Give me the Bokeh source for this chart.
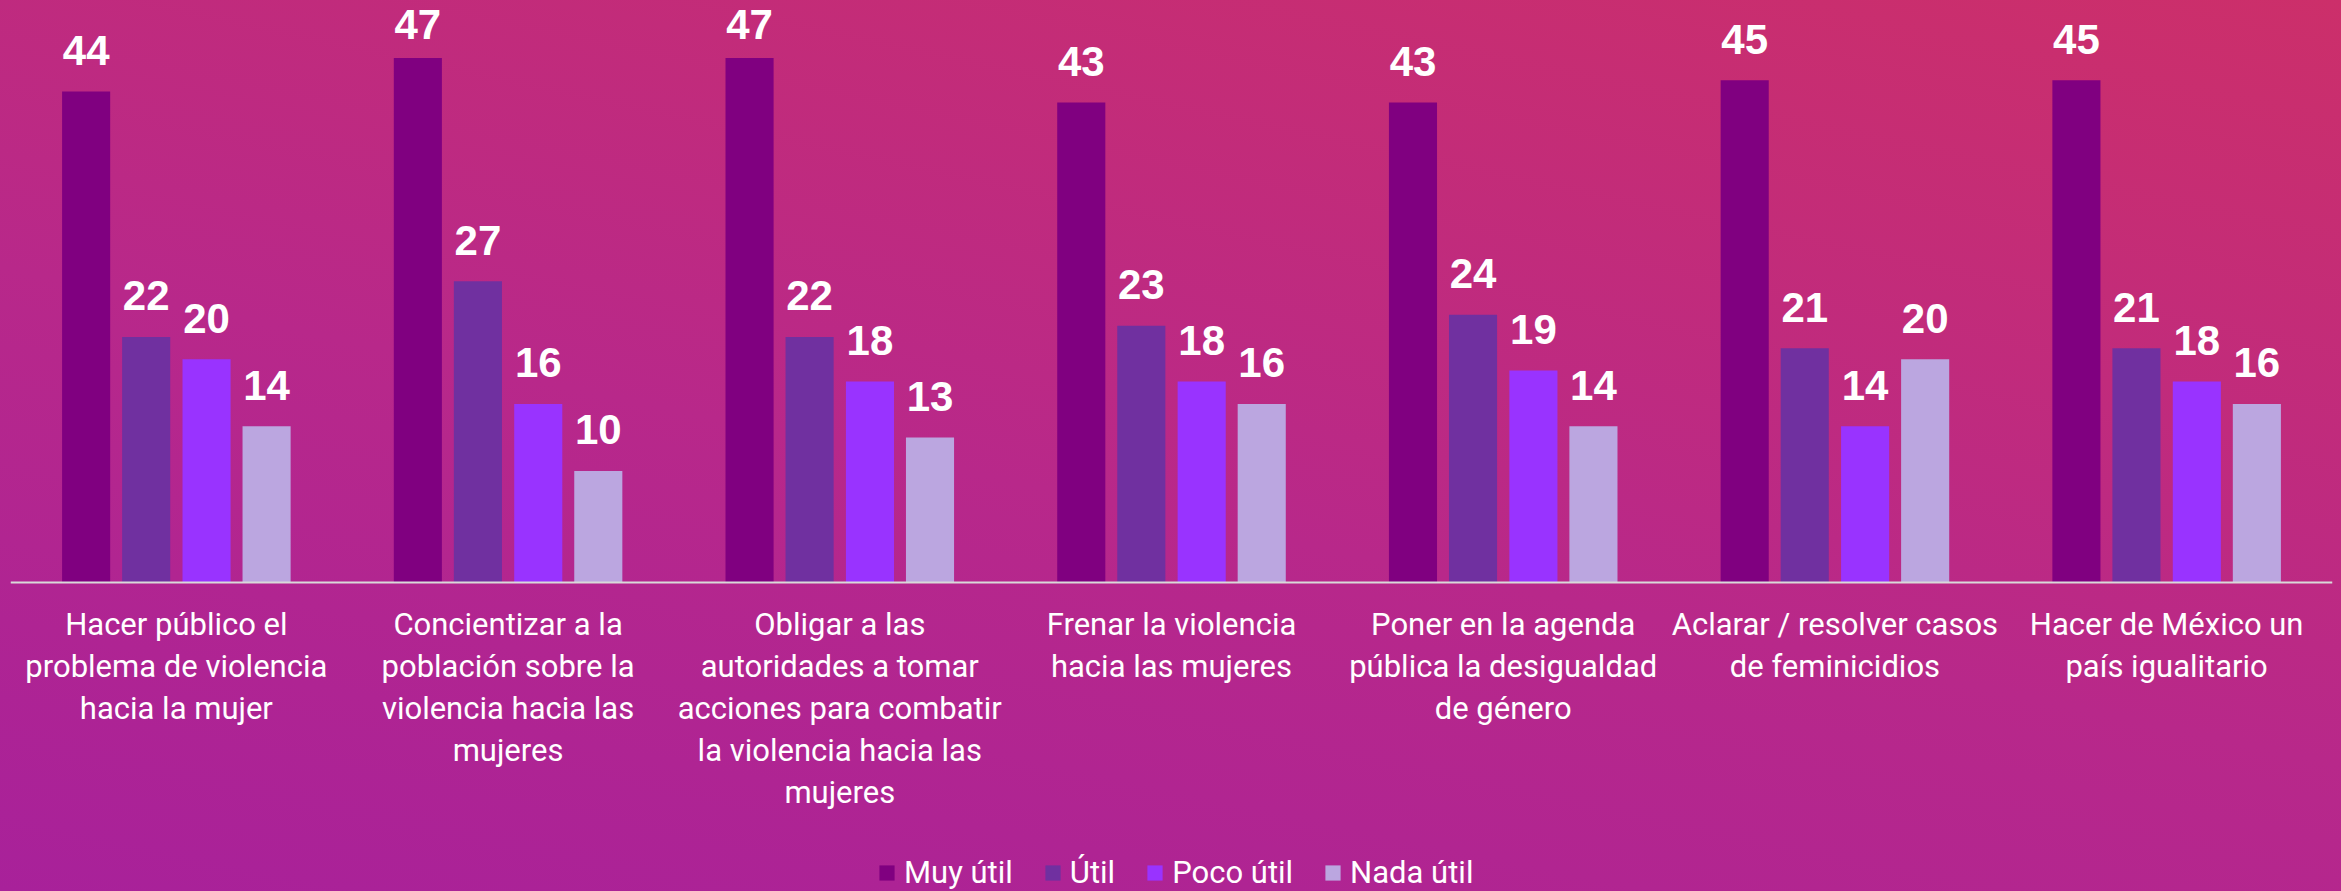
from bokeh.plotting import figure
from bokeh.models import ColumnDataSource, Range1d, FactorRange, Legend, LegendItem, Span
from bokeh.transform import dodge
from bokeh.core.properties import value
from bokeh.embed import file_html
from bokeh.resources import INLINE

categories = [
    "Hacer público el\nproblema de violencia\nhacia la mujer",
    "Concientizar a la\npoblación sobre la\nviolencia hacia las\nmujeres",
    "Obligar a las\nautoridades a tomar\nacciones para combatir\nla violencia hacia las\nmujeres",
    "Frenar la violencia\nhacia las mujeres",
    "Poner en la agenda\npública la desigualdad\nde género",
    "Aclarar / resolver casos\nde feminicidios",
    "Hacer de México un\npaís igualitario",
]
series_names = ["Muy útil", "Útil", "Poco útil", "Nada útil"]
muy_util = [44, 47, 47, 43, 43, 45, 45]
util = [22, 27, 22, 23, 24, 21, 21]
poco_util = [20, 16, 18, 18, 19, 14, 18]
nada_util = [14, 10, 13, 16, 14, 20, 16]
colors = ["#800080", "#7030A0", "#9933FF", "#BBA6E0"]
offsets = [-0.272, -0.091, 0.091, 0.272]

FONT = "Roboto"
Y_TOP = 52.15
LABEL_CAP = 46.3  # labels are kept inside the chart area near the top

W, H = 2341, 891
p = figure(
    x_range=FactorRange(factors=categories, range_padding=0),
    y_range=Range1d(-27.69, Y_TOP),
    width=W, height=H,
    output_backend="svg", toolbar_location=None,
    x_axis_location=None, y_axis_location=None,
    min_border_left=10, min_border_right=9, min_border_top=0, min_border_bottom=0,
)
p.styles = {"background": "linear-gradient(12deg, #A8219A 0%, #B8288A 45%, #CC2F6A 100%)"}
p.background_fill_color = None
p.border_fill_color = None
p.outline_line_color = None
p.grid.visible = False

data = dict(cat=categories, zero=[0] * len(categories))
keys = ["muy", "util", "poco", "nada"]
for k, vals in zip(keys, [muy_util, util, poco_util, nada_util]):
    data[k] = vals
    data[k + "_t"] = [str(v) for v in vals]
    data[k + "_ly"] = [min(v, LABEL_CAP) for v in vals]
source = ColumnDataSource(data)

items = []
for k, name, col, off in zip(keys, series_names, colors, offsets):
    r = p.vbar(x=dodge("cat", off, range=p.x_range), top=k, width=0.145, source=source,
               fill_color=col, line_color=None)
    p.text(x=dodge("cat", off, range=p.x_range), y=k + "_ly", text=k + "_t", source=source,
           text_align="center", text_baseline="alphabetic", y_offset=-41,
           text_font=value("Liberation Sans"), text_font_style="bold",
           text_font_size="42px", text_color="white")
    items.append(LegendItem(label=name, renderers=[r]))

# baseline (category axis line)
p.add_layout(Span(location=0, dimension="width", line_color="#D9D9D9", line_width=2))

# category labels under the baseline
p.text(x="cat", y="zero", text="cat", source=source,
       text_align="center", text_baseline="top", y_offset=24,
       text_font=value(FONT), text_font_size="31px", text_line_height=1.13,
       text_color="white")

legend = Legend(items=items, orientation="horizontal", location=(867, 0),
                background_fill_alpha=0, border_line_color=None,
                padding=0, margin=0, spacing=30,
                glyph_width=19, glyph_height=19, label_standoff=8,
                label_text_font=FONT, label_text_font_size="31px",
                label_text_color="white")
p.add_layout(legend, "center")

open("out.html", "w").write(file_html(p, INLINE))
